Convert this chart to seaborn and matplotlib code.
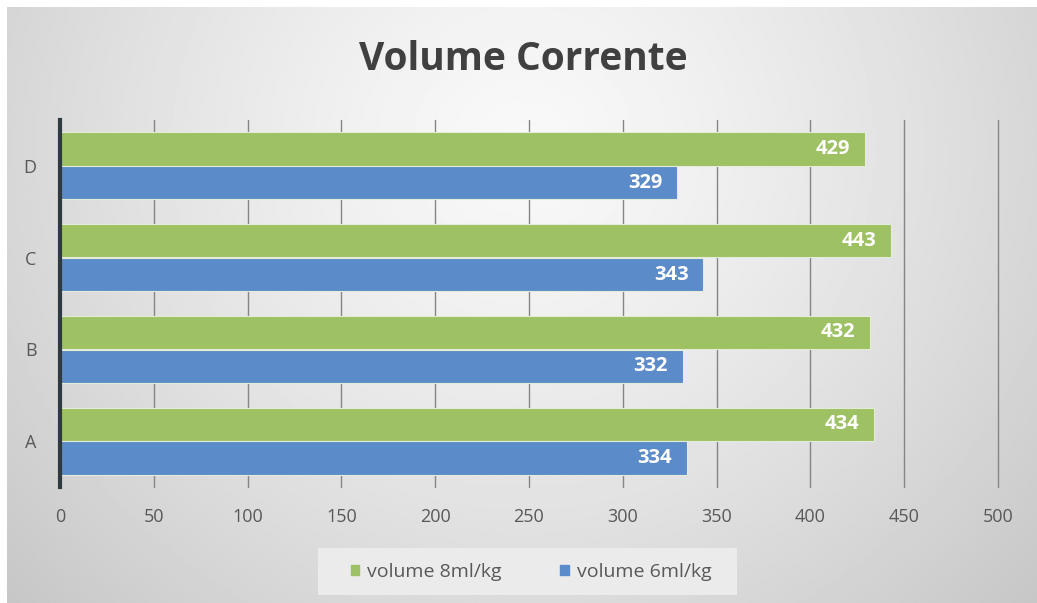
import numpy as np
import pandas as pd
import matplotlib
matplotlib.use("Agg")
import matplotlib.pyplot as plt
import seaborn as sns

categories = ["D", "C", "B", "A"]
series_names = ["volume 8ml/kg", "volume 6ml/kg"]
vol_8 = [429, 443, 432, 434]
vol_6 = [329, 343, 332, 334]
x_ticks = [0, 50, 100, 150, 200, 250, 300, 350, 400, 450, 500]
title = "Volume Corrente"

green = "#9DC163"
blue = "#5B8BC8"

df = pd.DataFrame({
    "cat": categories * 2,
    "serie": [series_names[0]] * 4 + [series_names[1]] * 4,
    "val": vol_8 + vol_6,
})

sns.set_theme(style="white")
plt.rcParams["font.family"] = ["Open Sans", "DejaVu Sans"]

W, H = 1037, 603
fig = plt.figure(figsize=(W / 100, H / 100), dpi=100)
fig.patch.set_facecolor("white")

# radial grey background of the chart area
bg = fig.add_axes([7 / W, 0, 1 - 7 / W, 1 - 7 / H])
bg.set_axis_off()
yy, xx = np.mgrid[0:300, 0:500]
cx, cy = 250, 70
r = np.sqrt(((xx - cx) / 330.0) ** 2 + ((yy - cy) / 330.0) ** 2)
shade = np.clip(0.975 - 0.19 * r ** 1.3, 0.77, 0.98)
bg.imshow(shade, cmap="gray", vmin=0, vmax=1, aspect="auto",
          extent=[0, 1, 0, 1], origin="upper", interpolation="bilinear")
bg.set_xlim(0, 1)
bg.set_ylim(0, 1)

# legend panel
fig.patches.append(plt.Rectangle((318 / W, 1 - 595 / H), 419 / W, 47 / H,
                                 transform=fig.transFigure, facecolor="#ebebeb",
                                 edgecolor="none", zorder=1))

ax = fig.add_axes([60 / W, 1 - 487 / H, 938 / W, 367 / H])
ax.patch.set_alpha(0)

sns.barplot(data=df, x="val", y="cat", hue="serie", order=categories,
            hue_order=series_names, palette=[green, blue], saturation=1,
            orient="h", width=0.74, gap=0.02, edgecolor="#e4ecd8",
            linewidth=0.8, ax=ax, legend=True, zorder=3)

ax.set_xlim(0, 500)
ax.set_ylim(3.5, -0.5)
ax.set_xticks(x_ticks)
ax.set_xticklabels([str(t) for t in x_ticks])
ax.tick_params(axis="x", length=0, pad=15, labelsize=13, labelcolor="#595959")
ax.tick_params(axis="y", length=0, pad=17, labelsize=13, labelcolor="#595959")
ax.set_xlabel("")
ax.set_ylabel("")
for t in x_ticks[1:]:
    ax.axvline(t, color="#858585", linewidth=1.0, zorder=1, clip_on=False)
for s in ["top", "right", "bottom"]:
    ax.spines[s].set_visible(False)
ax.spines["left"].set_color("#2f3a40")
ax.spines["left"].set_linewidth(3)
ax.spines["left"].set_zorder(5)

for cont in ax.containers:
    for bar in cont:
        v = bar.get_width()
        ax.text(v - 8, bar.get_y() + bar.get_height() / 2, f"{v:.0f}",
                ha="right", va="center", color="white", fontsize=14.5,
                fontweight="bold", zorder=6)

leg = ax.get_legend()
leg.remove()
handles = [plt.Rectangle((0, 0), 1, 1, color=green),
           plt.Rectangle((0, 0), 1, 1, color=blue)]
fig.legend(handles, series_names, loc="center", bbox_to_anchor=(531 / W, 1 - 572 / H),
           ncol=2, frameon=False, fontsize=14, handlelength=0.45, handleheight=0.45,
           handletextpad=0.4, columnspacing=3.0, labelcolor="#595959")

fig.text(523 / W, 1 - 60 / H, title, ha="center", va="center",
         fontsize=28, fontweight="bold", color="#404040")

fig.savefig("out.png", dpi=100)
